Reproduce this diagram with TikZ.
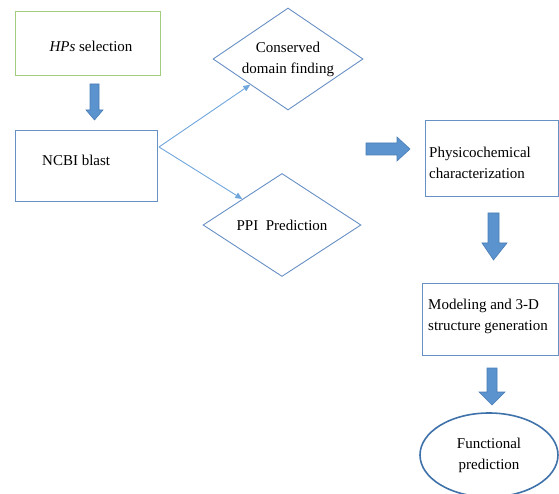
\documentclass[tikz,border=0pt]{standalone}
\usepackage{fontspec}
\setmainfont{Liberation Serif}
\usetikzlibrary{arrows.meta,shapes.geometric}
\definecolor{edgeblue}{HTML}{6790C4}
\definecolor{edgegreen}{HTML}{A3CD7E}
\definecolor{ellblue}{HTML}{3F72AA}
\definecolor{arrfill}{HTML}{5B93CF}
\definecolor{arrdraw}{HTML}{4A7DB5}
\definecolor{thinblue}{HTML}{6FA6DC}
\begin{document}
\begin{tikzpicture}[x=1pt,y=-1pt,
  font=\fontsize{15}{21}\selectfont,
  box/.style={draw=edgeblue,line width=0.9pt,inner sep=0pt,rectangle},
  dia/.style={draw=edgeblue,line width=0.9pt,diamond,inner sep=0pt,aspect=1.47,align=center},
  lbl/.style={inner sep=0pt,align=left,text=black},
  blockarr/.style={fill=arrfill,draw=arrdraw,line width=0.6pt},
  thin/.style={draw=thinblue,line width=0.9pt,-{Triangle[length=7pt,width=6pt]}}]
\useasboundingbox (0,0) rectangle (559,494);
% boxes
\node[box,draw=edgegreen,minimum width=145pt,minimum height=64pt] (hps) at (87.5,43) {};
\node[lbl,anchor=center] (hpst) at (91,46) {\textit{HPs} selection};
\node[box,minimum width=142pt,minimum height=71pt] (ncbi) at (86,165.5) {};
\node[lbl,anchor=west] (ncbit) at (42,160) {NCBI blast};
\node[dia,minimum width=150pt,minimum height=102pt,text=black] (cons) at (288,59) {Conserved\\domain finding};
\node[dia,minimum width=158pt,minimum height=103pt,text=black] (ppi) at (282,225) {PPI\ \ Prediction};
\node[box,minimum width=133pt,minimum height=76pt] (phys) at (491.5,158) {};
\node[lbl,anchor=west] (physt) at (429,163) {Physicochemical\\characterization};
\node[box,minimum width=136pt,minimum height=72pt] (model) at (490,319) {};
\node[lbl,anchor=west] (modelt) at (428,316) {Modeling and 3-D\\structure generation};
\node[ellipse,draw=ellblue,line width=1.6pt,minimum width=138pt,minimum height=84pt,inner sep=0pt,align=center,text=black] (func) at (489,455) {Functional\\prediction};
% thin arrows
\coordinate (fork) at (159,147);
\draw[thin] (fork) -- (cons.south west);
\draw[thin] (fork) -- (ppi.north west);
% block arrows
\draw[blockarr] (90,84) -- (99,84) -- (99,110) -- (103,110) -- (94.5,120) -- (86,110) -- (90,110) -- cycle;
\draw[blockarr] (366,143) -- (397,143) -- (397,137) -- (410,149) -- (397,161) -- (397,155) -- (366,155) -- cycle;
\draw[blockarr] (488,213) -- (499,213) -- (499,243) -- (507,243) -- (493.5,260) -- (482,243) -- (488,243) -- cycle;
\draw[blockarr] (487,368) -- (497,368) -- (497,392) -- (505,392) -- (492,405) -- (479,392) -- (487,392) -- cycle;
\end{tikzpicture}
\end{document}
